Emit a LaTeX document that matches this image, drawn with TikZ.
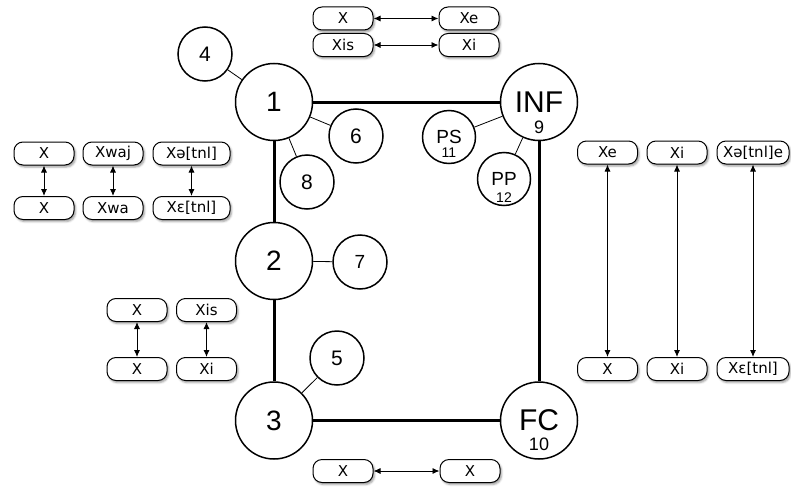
\documentclass[tikz,border=0pt]{standalone}
\usepackage{fontspec}
\setmainfont{Liberation Sans}
\newfontfamily\boxfont{DejaVu Sans}
\usetikzlibrary{arrows.meta,shadows.blur}

\tikzset{
	hub/.style={circle, draw, line width=1.5pt, inner sep=0pt, minimum size=77pt, font=\fontsize{28}{28}\selectfont},
	leaf/.style={circle, draw, line width=1.5pt, inner sep=0pt, minimum size=54pt, font=\fontsize{21}{21}\selectfont},
	pill/.style={draw, line width=1pt, rounded corners=9pt, fill=white, minimum width=60pt, minimum height=23pt, inner sep=0pt,
		font=\boxfont\fontsize{15}{15}\selectfont,
		blur shadow={shadow xshift=1.5pt, shadow yshift=-2pt, shadow blur radius=2pt, shadow opacity=40}},
	route/.style={line width=3pt},
	spoke/.style={line width=0.8pt},
	pair/.style={{Latex[length=7pt,width=6pt]}-{Latex[length=7pt,width=6pt]}, line width=0.9pt},
}

\begin{document}
\begin{tikzpicture}[x=1pt, y=-1pt]
	\useasboundingbox (0,0) rectangle (791,487);

	% main loop
	\node[hub] (n1) at (274,102) {1};
	\node[hub] (n2) at (274,261) {2};
	\node[hub] (n3) at (274,420.5) {3};
	\node[hub, font=\fontsize{30}{30}\selectfont] (inf) at (539,102) {INF};
	\node[hub, font=\fontsize{30}{30}\selectfont] (fc) at (539,420.5) {FC};
	\node[font=\fontsize{18}{18}\selectfont] (infnum) at (539,127.5) {9};
	\node[font=\fontsize{18}{18}\selectfont] (fcnum) at (539,444.5) {10};

	\draw[route] (n1) -- (inf);
	\draw[route] (n1) -- (n2);
	\draw[route] (n2) -- (n3);
	\draw[route] (n3) -- (fc);
	\draw[route] (inf) -- (fc);

	% side circles
	\node[leaf] (n4) at (205,54) {4};
	\node[leaf] (n6) at (356,136) {6};
	\node[leaf] (n8) at (307,182) {8};
	\node[leaf, font=\fontsize{19}{19}\selectfont] (n7) at (360,262) {7};
	\node[leaf] (n5) at (337,358) {5};
	\node[leaf, minimum size=53pt, font=\fontsize{19}{19}\selectfont] (ps) at (449,137) {PS};
	\node[font=\fontsize{14}{14}\selectfont] (psnum) at (449,153) {11};
	\node[leaf, minimum size=53pt, font=\fontsize{19}{19}\selectfont] (pp) at (504,179) {PP};
	\node[font=\fontsize{14}{14}\selectfont] (ppnum) at (504,198) {12};

	\draw[spoke] (n1) -- (n4);
	\draw[spoke] (n1) -- (n6);
	\draw[spoke] (n1) -- (n8);
	\draw[spoke] (n2) -- (n7);
	\draw[spoke] (n3) -- (n5);
	\draw[spoke] (inf) -- (ps);
	\draw[spoke] (inf) -- (pp);

	% top pairs
	\node[pill] (ta) at (343,18.5) {X};
	\node[pill] (tb) at (469,18.5) {Xe};
	\node[pill] (tc) at (343,45) {Xis};
	\node[pill] (td) at (469,45) {Xi};
	\draw[pair] (ta) -- (tb);
	\draw[pair] (tc) -- (td);

	% left pairs
	\node[pill] (la1) at (44,153.5) {X};
	\node[pill] (la2) at (44,208) {X};
	\node[pill] (lb1) at (113,153.5) {Xwaj};
	\node[pill] (lb2) at (113,208) {Xwa};
	\node[pill, minimum width=77pt] (lc1) at (191.5,153.5) {Xə[tnl]};
	\node[pill, minimum width=77pt] (lc2) at (191.5,208) {Xɛ[tnl]};
	\draw[pair] (la1) -- (la2);
	\draw[pair] (lb1) -- (lb2);
	\draw[pair] (lc1) -- (lc2);

	\node[pill] (ma1) at (137,310) {X};
	\node[pill] (ma2) at (137,369) {X};
	\node[pill] (mb1) at (206.5,310) {Xis};
	\node[pill] (mb2) at (206.5,369) {Xi};
	\draw[pair] (ma1) -- (ma2);
	\draw[pair] (mb1) -- (mb2);

	% right pairs
	\node[pill] (ra1) at (607.5,152.5) {Xe};
	\node[pill] (ra2) at (607.5,369) {X};
	\node[pill] (rb1) at (677,152.5) {Xi};
	\node[pill] (rb2) at (677,369) {Xi};
	\node[pill, minimum width=72pt] (rc1) at (753,152.5) {Xə[tnl]e};
	\node[pill, minimum width=72pt] (rc2) at (753,369) {Xɛ[tnl]};
	\draw[pair] (ra1) -- (ra2);
	\draw[pair] (rb1) -- (rb2);
	\draw[pair] (rc1) -- (rc2);

	% bottom pair
	\node[pill] (ba) at (343,471) {X};
	\node[pill] (bb) at (470,471) {X};
	\draw[pair] (ba) -- (bb);

\end{tikzpicture}
\end{document}
